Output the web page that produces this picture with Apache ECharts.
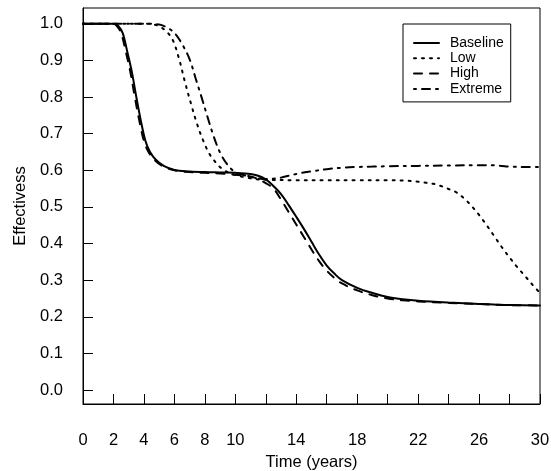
<!DOCTYPE html>
<html>
<head>
<meta charset="utf-8">
<script src="https://cdn.jsdelivr.net/npm/echarts@6/dist/echarts.min.js"></script>
<style>html,body{margin:0;padding:0;background:#fff}#c{width:551px;height:471px}</style>
</head>
<body>
<div id="c"></div>
<script>
// ---- data ----
const seriesNames = ['Baseline', 'Low', 'High', 'Extreme'];

const baselineT = [0,1,2,2.3,2.6,2.9,3.2,3.5,3.8,4.1,4.4,4.8,5.3,6,7,8,9,10,11,11.5,12,12.5,13,13.5,14,14.5,15,15.5,16,16.5,17,18,19,20,21,22,24,26,28,30];
const baselineV = [1,1,1,0.995,0.975,0.925,0.87,0.80,0.735,0.68,0.65,0.628,0.612,0.601,0.597,0.595,0.594,0.593,0.590,0.585,0.575,0.557,0.535,0.505,0.473,0.44,0.405,0.37,0.34,0.318,0.300,0.279,0.265,0.254,0.248,0.244,0.239,0.235,0.232,0.231];

const lowT = [0,2,4,4.5,5,5.5,5.9,6.3,6.7,7.1,7.5,7.9,8.3,8.7,9.1,9.5,10,10.5,11,11.5,12,14,16,18,20,21,22,22.5,23,23.5,24,24.5,25,25.5,26,26.5,27,27.5,28,28.5,29,29.5,30];
const lowV = [1,1,1,0.999,0.993,0.978,0.955,0.905,0.84,0.78,0.725,0.68,0.645,0.622,0.605,0.595,0.587,0.582,0.578,0.575,0.574,0.573,0.573,0.573,0.573,0.572,0.569,0.566,0.563,0.557,0.549,0.540,0.524,0.503,0.478,0.450,0.420,0.390,0.362,0.336,0.312,0.288,0.265];

const highT = [0,1,2,2.2,2.5,2.8,3.1,3.4,3.7,4.0,4.3,4.7,5.2,6,7,8,9,10,11,11.5,12,12.5,13,13.5,14,14.5,15,15.5,16,16.5,17,18,19,20,21,22,24,26,28,30];
const highV = [1,1,1,0.995,0.975,0.925,0.87,0.80,0.735,0.68,0.65,0.628,0.612,0.600,0.595,0.593,0.591,0.588,0.583,0.576,0.565,0.550,0.520,0.486,0.452,0.418,0.384,0.352,0.326,0.306,0.291,0.272,0.259,0.250,0.245,0.242,0.238,0.235,0.232,0.231];

const extremeT = [0,2,4,5,5.5,6,6.5,7,7.4,7.8,8.2,8.6,9,9.4,9.8,10.3,11,11.5,12,12.5,13,14,15,16,17,18,19,20,22,24,26,27,27.5,28,29,30];
const extremeV = [1,1,1,0.998,0.99,0.975,0.945,0.903,0.85,0.797,0.742,0.69,0.648,0.62,0.601,0.59,0.582,0.578,0.576,0.577,0.58,0.59,0.597,0.603,0.607,0.609,0.61,0.611,0.612,0.613,0.614,0.614,0.612,0.610,0.609,0.609];

const xTicks = [0,2,4,6,8,10,12,14,16,18,20,22,24,26,28,30];
const xTickLabels = [0,2,4,6,8,10,14,18,22,26,30];
const yTicks = [0,0.1,0.2,0.3,0.4,0.5,0.6,0.7,0.8,0.9,1.0];

// ---- chart ----
const FONT = 'Liberation Sans, Arial, sans-serif';
function pairs(t, v) { return t.map((x, i) => [x, v[i]]); }
const dashes = {
  Baseline: 'solid',
  Low: [2, 6],
  High: [8, 8],
  Extreme: [2, 6, 8, 6]
};
const dataMap = {
  Baseline: pairs(baselineT, baselineV),
  Low: pairs(lowT, lowV),
  High: pairs(highT, highV),
  Extreme: pairs(extremeT, extremeV)
};

const chart = echarts.init(document.getElementById('c'), null, { renderer: 'canvas' });
chart.setOption({
  animation: false,
  backgroundColor: '#fff',
  textStyle: { fontFamily: FONT, color: '#000' },
  grid: {
    left: 83, right: 11, top: 8, bottom: 67,
    show: true, borderColor: '#000', borderWidth: 1,
    backgroundColor: 'transparent',
    containLabel: false, outerBoundsMode: 'none'
  },
  xAxis: {
    type: 'value', min: 0, max: 30,
    name: 'Time (years)', nameLocation: 'middle', nameGap: 42,
    nameTextStyle: { fontFamily: FONT, fontSize: 16.5, color: '#000' },
    axisLine: { show: true, onZero: false, lineStyle: { color: '#000', width: 1 } },
    axisTick: { show: true, inside: true, length: 10, customValues: xTicks, lineStyle: { color: '#000', width: 1 } },
    axisLabel: { customValues: xTickLabels, margin: 28, fontFamily: FONT, fontSize: 16.5, color: '#000' },
    splitLine: { show: false }
  },
  yAxis: {
    type: 'value', min: -0.038, max: 1.043,
    name: 'Effectivess', nameLocation: 'middle', nameGap: 54,
    nameTextStyle: { fontFamily: FONT, fontSize: 16.5, color: '#000' },
    axisLine: { show: true, onZero: false, lineStyle: { color: '#000', width: 1 } },
    axisTick: { show: true, inside: true, length: 10, customValues: yTicks, lineStyle: { color: '#000', width: 1 } },
    axisLabel: { customValues: yTicks, margin: 20, fontFamily: FONT, fontSize: 16.5, color: '#000',
      formatter: v => Number(v).toFixed(1) },
    splitLine: { show: false }
  },
  legend: {
    orient: 'vertical', left: 403, top: 24,
    data: seriesNames,
    itemWidth: 25, itemHeight: 14, itemGap: 1.3,
    padding: [12, 7, 6, 10],
    borderColor: '#000', borderWidth: 1, borderRadius: 0,
    backgroundColor: '#fff',
    selectedMode: false,
    itemStyle: { opacity: 0, color: 'rgba(0,0,0,0)', borderWidth: 0 },
    textStyle: { fontFamily: FONT, fontSize: 14, color: '#000', lineHeight: 14, padding: [0, 0, 0, 6] }
  },
  series: seriesNames.map(n => ({
    name: n, type: 'line', data: dataMap[n],
    symbol: 'none', showSymbol: false, smooth: 0.35,
    lineStyle: { color: '#000', width: 2, type: dashes[n], cap: 'round' },
    itemStyle: { color: '#000' },
    z: n === 'Baseline' ? 3 : 2
  }))
});
</script>
</body>
</html>
